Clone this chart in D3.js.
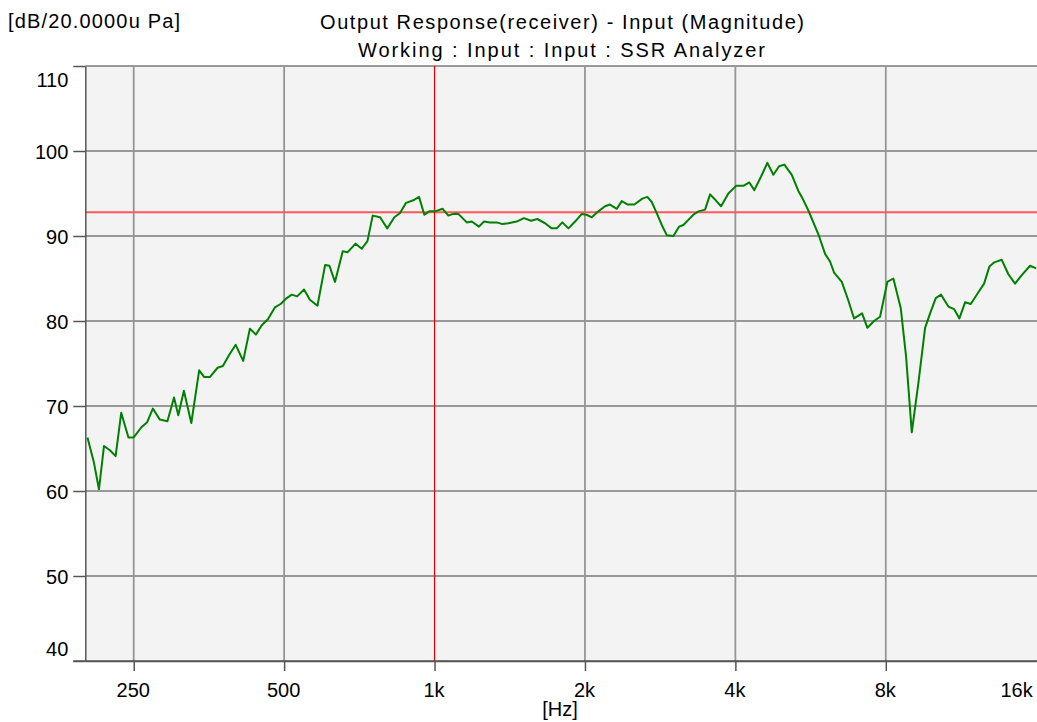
<!DOCTYPE html>
<html>
<head>
<meta charset="utf-8">
<script src="https://cdn.jsdelivr.net/npm/d3@7"></script>
<style>
  html, body { margin: 0; padding: 0; background: #ffffff; }
  svg { display: block; font-family: "Liberation Sans", Arial, Helvetica, sans-serif; }
</style>
</head>
<body>
<svg id="chart" width="1037" height="722"></svg>
<script>
// ---- data ----
const titleText = "Output Response(receiver) - Input (Magnitude)";
const subtitleText = "Working : Input : Input : SSR Analyzer";
const yUnitText = "[dB/20.0000u Pa]";
const xUnitText = "[Hz]";

const xDomain = [200, 16000];
const yDomain = [40, 110];
const yTicks = [40, 50, 60, 70, 80, 90, 100, 110];
const xTicks = [250, 500, 1000, 2000, 4000, 8000, 16000];
const xTickLabels = ["250", "500", "1k", "2k", "4k", "8k", "16k"];
const markerFreq = 1000;     // red vertical cursor
const refLevel = 92.8;       // red horizontal reference

const freqHz = [
  202,208,213,218,224,230,236,244,250,259,
  266,273,282,292,301,307,315,326,338,346,
  355,368,377,388,400,414,427,439,451,464,
  479,492,506,518,531,548,563,583,604,616,
  632,655,670,695,715,734,752,778,804,831,
  853,877,907,931,954,976,1002,1038,1066,1090,
  1116,1160,1187,1227,1256,1291,1332,1367,1405,1460,
  1510,1560,1606,1664,1716,1756,1802,1853,1911,1971,
  2015,2064,2127,2194,2245,2316,2370,2436,2511,2606,
  2666,2721,2784,2849,2916,3006,3086,3148,3221,3296,
  3373,3479,3560,3654,3745,3873,4013,4150,4266,4365,
  4503,4635,4765,4892,5013,5187,5347,5432,5600,5864,
  6048,6188,6304,6532,6724,6912,7172,7350,7580,7792,
  8058,8284,8572,8784,9018,9296,9588,9812,10072,10322,
  10674,10958,11230,11528,11836,12202,12584,12894,13194,13652,
  14074,14516,14972,15554,16000
];
const levelDb = [
  66.3,63.4,60.2,65.3,64.8,64.1,69.2,66.3,66.3,67.5,
  68.1,69.7,68.4,68.2,71.0,68.9,71.8,68.0,74.2,73.4,
  73.4,74.5,74.7,76.0,77.2,75.3,79.1,78.4,79.5,80.2,
  81.6,82.0,82.7,83.1,82.9,83.7,82.5,81.8,86.6,86.5,
  84.6,88.2,88.1,89.1,88.5,89.4,92.4,92.2,90.9,92.2,
  92.7,93.9,94.2,94.6,92.5,92.9,92.9,93.2,92.4,92.6,
  92.6,91.6,91.7,91.1,91.7,91.6,91.6,91.4,91.5,91.7,
  92.1,91.8,92.0,91.5,90.9,90.9,91.6,90.9,91.7,92.6,
  92.5,92.2,92.9,93.5,93.7,93.2,94.1,93.7,93.7,94.4,
  94.6,94.0,92.7,91.3,90.1,90.0,91.1,91.3,91.9,92.5,
  92.9,93.1,94.9,94.2,93.5,95.0,95.9,95.9,96.3,95.4,
  97.0,98.6,97.2,98.2,98.4,97.2,95.3,94.6,93.0,90.2,
  87.9,87.0,85.7,84.6,82.5,80.3,80.9,79.2,80.0,80.5,
  84.6,85.0,81.5,75.8,66.9,72.7,79.2,80.9,82.7,83.1,
  81.7,81.4,80.3,82.2,82.0,83.2,84.4,86.4,86.9,87.2,
  85.5,84.4,85.4,86.5,86.2
];

// ---- layout ----
const plot = { left: 85.3, right: 1036.2, top: 66, bottom: 661 };
const svg = d3.select("#chart");

const x = d3.scaleLog().domain(xDomain).range([plot.left, plot.right]);
const y = d3.scaleLinear().domain(yDomain).range([plot.bottom, plot.top]);

// plot background
svg.append("rect")
  .attr("x", plot.left).attr("y", plot.top)
  .attr("width", 1037 - plot.left).attr("height", plot.bottom - plot.top)
  .attr("fill", "#f3f3f3");

svg.append("defs").append("clipPath").attr("id", "clip")
  .append("rect")
  .attr("x", plot.left).attr("y", plot.top)
  .attr("width", 1037 - plot.left).attr("height", plot.bottom - plot.top);

// grid
const grid = svg.append("g");
grid.selectAll("line.h")
  .data(yTicks.filter(v => v > yDomain[0]))
  .join("line")
  .attr("x1", plot.left).attr("x2", 1037)
  .attr("y1", d => y(d)).attr("y2", d => y(d))
  .attr("stroke", "#7a7a7a").attr("stroke-width", 1.5);

grid.selectAll("line.v")
  .data(xTicks.filter(f => f < xDomain[1] && f !== markerFreq))
  .join("line")
  .attr("x1", d => x(d)).attr("x2", d => x(d))
  .attr("y1", plot.top).attr("y2", plot.bottom)
  .attr("stroke", "#959595").attr("stroke-width", 1.8);

// red reference line
svg.append("line")
  .attr("x1", plot.left).attr("x2", 1037)
  .attr("y1", y(refLevel)).attr("y2", y(refLevel))
  .attr("stroke", "#ff5a5a").attr("stroke-width", 2);

// red marker at 1k
svg.append("line")
  .attr("x1", x(markerFreq)).attr("x2", x(markerFreq))
  .attr("y1", plot.top).attr("y2", plot.bottom)
  .attr("stroke", "#e60000").attr("stroke-width", 1.2);

// data line
const pts = d3.zip(freqHz, levelDb);
svg.append("path")
  .datum(pts)
  .attr("clip-path", "url(#clip)")
  .attr("fill", "none")
  .attr("stroke", "#008000")
  .attr("stroke-width", 2)
  .attr("stroke-linejoin", "round")
  .attr("d", d3.line().x(d => x(d[0])).y(d => y(d[1])));

// axes
const yAxis = svg.append("g")
  .attr("transform", `translate(${plot.left},0)`)
  .call(d3.axisLeft(y).tickValues(yTicks).tickSize(12).tickSizeOuter(0).tickPadding(5));
yAxis.select(".domain").attr("stroke", "#555").attr("stroke-width", 1.5);
yAxis.selectAll(".tick line").attr("stroke", "#555").attr("stroke-width", 1.5);
yAxis.selectAll(".tick text")
  .attr("font-size", 20)
  .attr("font-family", "Liberation Sans, Arial, sans-serif")
  .attr("fill", "#000")
  .attr("dy", d => d === yDomain[1] ? "1.0em" : (d === yDomain[0] ? "-0.3em" : "0.35em"));

const xAxis = svg.append("g")
  .attr("transform", `translate(0,${plot.bottom})`)
  .call(d3.axisBottom(x).tickValues(xTicks)
    .tickFormat((d, i) => xTickLabels[i])
    .tickSize(10).tickSizeOuter(0).tickPadding(12));
xAxis.select(".domain").attr("stroke", "#555").attr("stroke-width", 1.5);
xAxis.selectAll(".tick line")
  .attr("stroke", "#555").attr("stroke-width", 1.5)
  .attr("display", d => d >= xDomain[1] ? "none" : null);
xAxis.selectAll(".tick text")
  .attr("font-size", 20)
  .attr("font-family", "Liberation Sans, Arial, sans-serif")
  .attr("fill", "#000")
  .attr("text-anchor", d => d === xDomain[1] ? "end" : "middle")
  .attr("dx", d => d === xDomain[1] ? "-4" : "-1");

// extend bottom axis line left to the 40 tick
svg.append("line")
  .attr("x1", plot.left - 12).attr("x2", 1037)
  .attr("y1", plot.bottom).attr("y2", plot.bottom)
  .attr("stroke", "#555").attr("stroke-width", 1.5);

// texts
svg.append("text")
  .attr("x", 320).attr("y", 29)
  .attr("font-size", 20).attr("fill", "#000")
  .attr("textLength", 484).attr("lengthAdjust", "spacing")
  .text(titleText);
svg.append("text")
  .attr("x", 358).attr("y", 57)
  .attr("font-size", 20).attr("fill", "#000")
  .attr("textLength", 407).attr("lengthAdjust", "spacing")
  .text(subtitleText);
svg.append("text")
  .attr("x", 8).attr("y", 28)
  .attr("font-size", 20).attr("fill", "#000")
  .attr("textLength", 172).attr("lengthAdjust", "spacing")
  .text(yUnitText);
svg.append("text")
  .attr("x", 560).attr("y", 716)
  .attr("text-anchor", "middle")
  .attr("font-size", 20).attr("fill", "#000")
  .text(xUnitText);
</script>
</body>
</html>
